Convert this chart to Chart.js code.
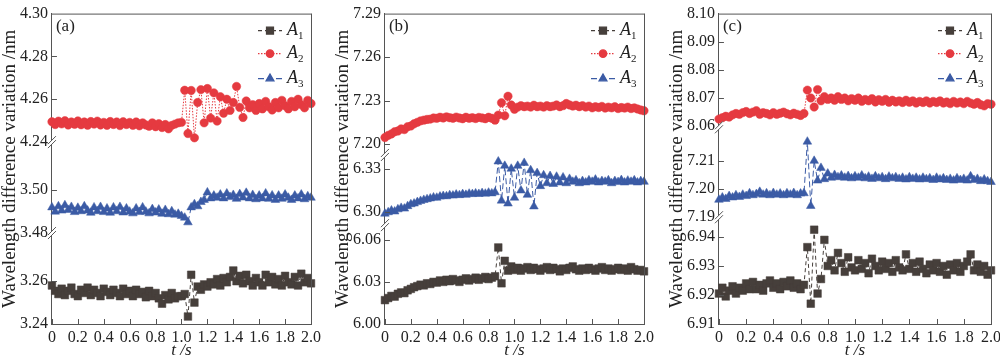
<!DOCTYPE html>
<html>
<head>
<meta charset="utf-8">
<script src="https://cdn.jsdelivr.net/npm/chart.js@4.4.0/dist/chart.umd.min.js"></script>
<style>
  body { margin: 0; background: #fff; }
  #wrap { position: relative; width: 1000px; height: 359px; overflow: hidden; }
  canvas { position: absolute; top: 0; }
</style>
</head>
<body>
<div id="wrap">
  <canvas id="chartA" width="330" height="359" style="left:0"></canvas>
  <canvas id="chartB" width="330" height="359" style="left:333px"></canvas>
  <canvas id="chartC" width="338" height="359" style="left:667px"></canvas>
</div>
<script>
// time axis (s)
const times = [
  0,0.025,0.05,0.075,0.1,0.125,0.15,0.175,0.2,0.225,
  0.25,0.275,0.3,0.325,0.35,0.375,0.4,0.425,0.45,0.475,
  0.5,0.525,0.55,0.575,0.6,0.625,0.65,0.675,0.7,0.725,
  0.75,0.775,0.8,0.825,0.85,0.875,0.9,0.925,0.95,0.975,
  1.0,1.025,1.05,1.075,1.1,1.125,1.15,1.175,1.2,1.225,
  1.25,1.275,1.3,1.325,1.35,1.375,1.4,1.425,1.45,1.475,
  1.5,1.525,1.55,1.575,1.6,1.625,1.65,1.675,1.7,1.725,
  1.75,1.775,1.8,1.825,1.85,1.875,1.9,1.925,1.95,1.975,
  2.0
];
const xTicks = [0, 0.2, 0.4, 0.6, 0.8, 1.0, 1.2, 1.4, 1.6, 1.8, 2.0];

// panel (a)
const a_A1 = [
  3.2580,3.2555,3.2540,3.2565,3.2535,3.2555,3.2570,3.2540,3.2530,3.2560,
  3.2545,3.2570,3.2535,3.2560,3.2545,3.2530,3.2565,3.2550,3.2535,3.2560,
  3.2545,3.2530,3.2565,3.2540,3.2555,3.2530,3.2560,3.2540,3.2550,3.2525,
  3.2555,3.2530,3.2545,3.2520,3.2495,3.2535,3.2515,3.2545,3.2520,3.2530,
  3.2530,3.2540,3.2435,3.2630,3.2500,3.2575,3.2560,3.2585,3.2575,3.2595,
  3.2585,3.2610,3.2580,3.2615,3.2595,3.2620,3.2650,3.2600,3.2625,3.2590,
  3.2630,3.2600,3.2580,3.2615,3.2595,3.2580,3.2630,3.2595,3.2620,3.2585,
  3.2610,3.2580,3.2625,3.2595,3.2585,3.2620,3.2580,3.2635,3.2595,3.2615,
  3.2590
];
const a_A2 = [
  4.2495,4.2482,4.2498,4.2485,4.2500,4.2480,4.2494,4.2483,4.2499,4.2481,
  4.2494,4.2479,4.2496,4.2484,4.2498,4.2480,4.2492,4.2478,4.2496,4.2482,
  4.2494,4.2477,4.2495,4.2482,4.2492,4.2478,4.2494,4.2476,4.2490,4.2480,
  4.2474,4.2490,4.2472,4.2486,4.2468,4.2482,4.2462,4.2478,4.2484,4.2490,
  4.2492,4.2642,4.2440,4.2641,4.2420,4.2585,4.2645,4.2490,4.2650,4.2512,
  4.2630,4.2498,4.2612,4.2535,4.2600,4.2548,4.2585,4.2660,4.2562,4.2515,
  4.2592,4.2560,4.2575,4.2548,4.2580,4.2555,4.2590,4.2565,4.2550,4.2585,
  4.2560,4.2595,4.2570,4.2555,4.2590,4.2565,4.2600,4.2575,4.2560,4.2595,
  4.2580
];
const a_A3 = [
  3.4920,3.4900,3.4925,3.4905,3.4930,3.4908,3.4922,3.4898,3.4918,3.4902,
  3.4925,3.4905,3.4895,3.4920,3.4902,3.4922,3.4898,3.4915,3.4895,3.4920,
  3.4902,3.4922,3.4896,3.4915,3.4900,3.4892,3.4915,3.4898,3.4920,3.4900,
  3.4892,3.4912,3.4896,3.4910,3.4890,3.4908,3.4888,3.4902,3.4886,3.4890,
  3.4880,3.4872,3.4850,3.4920,3.4935,3.4925,3.4945,3.4955,3.4990,3.4962,
  3.4975,3.4965,3.4980,3.4962,3.4985,3.4968,3.4978,3.4960,3.4982,3.4966,
  3.4988,3.4962,3.4978,3.4958,3.4975,3.4962,3.4985,3.4960,3.4976,3.4955,
  3.4975,3.4960,3.4980,3.4965,3.4955,3.4975,3.4962,3.4980,3.4958,3.4972,
  3.4965
];

// panel (b)
const b_A1 = [
  6.0170,6.0185,6.0200,6.0195,6.0215,6.0225,6.0220,6.0240,6.0250,6.0262,
  6.0270,6.0280,6.0275,6.0290,6.0285,6.0300,6.0295,6.0310,6.0300,6.0315,
  6.0305,6.0320,6.0310,6.0300,6.0315,6.0325,6.0310,6.0320,6.0330,6.0315,
  6.0325,6.0335,6.0320,6.0330,6.0340,6.0545,6.0290,6.0450,6.0380,6.0410,
  6.0385,6.0400,6.0380,6.0395,6.0405,6.0385,6.0400,6.0390,6.0380,6.0395,
  6.0405,6.0385,6.0400,6.0390,6.0375,6.0395,6.0385,6.0400,6.0410,6.0390,
  6.0380,6.0395,6.0385,6.0400,6.0390,6.0380,6.0395,6.0405,6.0385,6.0395,
  6.0380,6.0390,6.0400,6.0385,6.0395,6.0380,6.0405,6.0390,6.0380,6.0385,
  6.0375
];
const b_A2 = [
  7.2045,7.2060,7.2070,7.2085,7.2090,7.2105,7.2100,7.2120,7.2125,7.2140,
  7.2150,7.2160,7.2165,7.2170,7.2172,7.2180,7.2178,7.2185,7.2180,7.2188,
  7.2182,7.2178,7.2186,7.2180,7.2175,7.2185,7.2178,7.2182,7.2176,7.2184,
  7.2180,7.2175,7.2185,7.2178,7.2165,7.2200,7.2285,7.2195,7.2330,7.2270,
  7.2240,7.2255,7.2265,7.2258,7.2262,7.2255,7.2268,7.2258,7.2262,7.2255,
  7.2265,7.2258,7.2262,7.2270,7.2258,7.2265,7.2280,7.2270,7.2262,7.2268,
  7.2258,7.2265,7.2255,7.2262,7.2250,7.2258,7.2252,7.2260,7.2248,7.2255,
  7.2250,7.2258,7.2245,7.2252,7.2248,7.2255,7.2245,7.2250,7.2242,7.2235,
  7.2230
];
const b_A3 = [
  6.2990,6.3000,6.3012,6.3005,6.3020,6.3030,6.3025,6.3042,6.3055,6.3060,
  6.3070,6.3078,6.3085,6.3090,6.3095,6.3102,6.3100,6.3108,6.3112,6.3110,
  6.3118,6.3115,6.3122,6.3118,6.3125,6.3120,6.3128,6.3125,6.3130,6.3126,
  6.3132,6.3128,6.3135,6.3130,6.3138,6.3350,6.3080,6.3320,6.3060,6.3300,
  6.3100,6.3320,6.3150,6.3340,6.3120,6.3290,6.3040,6.3270,6.3180,6.3255,
  6.3200,6.3250,6.3195,6.3245,6.3205,6.3240,6.3200,6.3230,6.3210,6.3220,
  6.3200,6.3215,6.3205,6.3220,6.3210,6.3225,6.3205,6.3215,6.3210,6.3220,
  6.3200,6.3215,6.3208,6.3222,6.3205,6.3218,6.3210,6.3220,6.3205,6.3215,
  6.3210
];

// panel (c)
const c_A1 = [
  6.9205,6.9225,6.9195,6.9215,6.9230,6.9205,6.9225,6.9215,6.9240,6.9220,
  6.9245,6.9220,6.9235,6.9215,6.9240,6.9250,6.9225,6.9240,6.9220,6.9245,
  6.9230,6.9250,6.9225,6.9240,6.9220,6.9235,6.9365,6.9170,6.9425,6.9205,
  6.9255,6.9390,6.9300,6.9320,6.9285,6.9345,6.9310,6.9280,6.9330,6.9295,
  6.9285,6.9320,6.9290,6.9310,6.9275,6.9325,6.9300,6.9285,6.9315,6.9290,
  6.9310,6.9280,6.9320,6.9295,6.9285,6.9340,6.9290,6.9310,6.9280,6.9315,
  6.9290,6.9275,6.9305,6.9285,6.9310,6.9280,6.9300,6.9270,6.9305,6.9285,
  6.9310,6.9280,6.9300,6.9315,6.9340,6.9285,6.9305,6.9280,6.9300,6.9270,
  6.9285
];
const c_A2 = [
  8.0625,8.0630,8.0635,8.0632,8.0640,8.0645,8.0642,8.0648,8.0652,8.0645,
  8.0650,8.0655,8.0642,8.0648,8.0645,8.0640,8.0648,8.0642,8.0646,8.0650,
  8.0644,8.0640,8.0646,8.0642,8.0638,8.0645,8.0728,8.0700,8.0668,8.0730,
  8.0690,8.0705,8.0695,8.0700,8.0692,8.0705,8.0695,8.0700,8.0690,8.0698,
  8.0692,8.0700,8.0688,8.0695,8.0690,8.0698,8.0686,8.0694,8.0688,8.0695,
  8.0685,8.0692,8.0686,8.0690,8.0684,8.0692,8.0685,8.0690,8.0682,8.0688,
  8.0684,8.0690,8.0682,8.0688,8.0684,8.0690,8.0682,8.0686,8.0680,8.0688,
  8.0682,8.0686,8.0680,8.0688,8.0682,8.0678,8.0684,8.0676,8.0672,8.0680,
  8.0678
];
const c_A3 = [
  7.1962,7.1970,7.1965,7.1975,7.1970,7.1978,7.1972,7.1980,7.1975,7.1985,
  7.1978,7.1982,7.1990,7.1980,7.1985,7.1978,7.1986,7.1980,7.1984,7.1978,
  7.1985,7.1980,7.1986,7.1978,7.1984,7.1985,7.2168,7.1940,7.2100,7.2030,
  7.2075,7.2035,7.2055,7.2040,7.2050,7.2042,7.2048,7.2040,7.2046,7.2038,
  7.2045,7.2040,7.2048,7.2038,7.2044,7.2036,7.2045,7.2038,7.2042,7.2035,
  7.2044,7.2038,7.2042,7.2036,7.2040,7.2034,7.2042,7.2036,7.2040,7.2034,
  7.2040,7.2035,7.2038,7.2032,7.2040,7.2034,7.2038,7.2032,7.2036,7.2030,
  7.2038,7.2032,7.2036,7.2030,7.2045,7.2032,7.2036,7.2028,7.2034,7.2028,
  7.2025
];

// y tick labels for each broken-axis segment
const a_botTicks = [3.24, 3.26], a_midTicks = [3.48, 3.50], a_topTicks = [4.24, 4.26, 4.28, 4.30];
const b_botTicks = [6.00, 6.03, 6.06], b_midTicks = [6.30, 6.33], b_topTicks = [7.20, 7.23, 7.26, 7.29];
const c_botTicks = [6.91, 6.92, 6.93, 6.94], c_midTicks = [7.19, 7.20, 7.21], c_topTicks = [8.06, 8.07, 8.08, 8.09, 8.10];

const seriesNames = ['A1', 'A2', 'A3'];

const FONT = '"Liberation Serif", "Times New Roman", serif';
const axisColor = '#555';
const textColor = '#222';
const colors = ['#463f3b', '#e53a40', '#3b5ba5'];
const dashes = [[4, 3], [1.5, 1.5], [6, 3]];
const styles = ['rect', 'circle', 'triangle'];
const radii = [5.4, 4.2, 5];

// frame, inward ticks, axis breaks, panel tag, legend
const decor = {
  id: 'decor',
  afterDraw(chart, args, opts) {
    const ctx = chart.ctx, ca = chart.chartArea;
    const line = (x1, y1, x2, y2) => { ctx.beginPath(); ctx.moveTo(x1, y1); ctx.lineTo(x2, y2); ctx.stroke(); };
    ctx.save();
    ctx.strokeStyle = axisColor;
    ctx.lineWidth = 1;
    line(ca.left, ca.top + 0.5, ca.right + 0.5, ca.top + 0.5);
    line(ca.right + 0.5, ca.top, ca.right + 0.5, ca.bottom);

    ['yBot', 'yMid', 'yTop'].forEach(id => {
      const s = chart.scales[id];
      s.ticks.forEach(t => {
        const y = s.getPixelForValue(t.value);
        if (y - s.top < 4 || s.bottom - y < 4) return;
        line(ca.left, Math.round(y) + 0.5, ca.left + 5, Math.round(y) + 0.5);
      });
    });
    const xs = chart.scales.x;
    xs.ticks.forEach(t => {
      const x = Math.round(xs.getPixelForValue(t.value)) + 0.5;
      line(x, ca.bottom, x, ca.bottom - 5);
    });

    // axis breaks
    ['yBot', 'yMid'].forEach(id => {
      const b = chart.scales[id].top;
      const x = ca.left;
      ctx.fillStyle = '#fff';
      ctx.beginPath();
      ctx.moveTo(x - 4, b + 2); ctx.lineTo(x + 4, b - 6);
      ctx.lineTo(x + 4, b - 2); ctx.lineTo(x - 4, b + 6);
      ctx.closePath(); ctx.fill();
      line(x - 4, b + 2, x + 4, b - 6);
      line(x - 4, b + 6, x + 4, b - 2);
    });

    // panel tag
    ctx.fillStyle = textColor;
    ctx.font = '17px ' + FONT;
    ctx.textBaseline = 'middle';
    ctx.textAlign = 'left';
    ctx.fillText(opts.tag, ca.left + 4, ca.top + 13);

    // legend
    const rows = [17, 40, 65];
    chart.data.datasets.forEach((ds, i) => {
      const y = ca.top + rows[i];
      const x0 = ca.right - 53, x1 = ca.right - 29;
      ctx.strokeStyle = ds.borderColor;
      ctx.lineWidth = 1.3;
      ctx.setLineDash(ds.borderDash);
      line(x0, y, x1, y);
      ctx.setLineDash([]);
      ctx.fillStyle = ds.backgroundColor;
      ctx.strokeStyle = ds.borderColor;
      Chart.helpers.drawPoint(ctx, { pointStyle: ds.pointStyle, radius: ds.pointRadius - 0.5, rotation: 0, borderWidth: 1 }, (x0 + x1) / 2, y);
      ctx.fillStyle = textColor;
      ctx.font = 'italic 18px ' + FONT;
      ctx.fillText(ds.label[0], ca.right - 24, y);
      const w = ctx.measureText(ds.label[0]).width;
      ctx.font = '11px ' + FONT;
      ctx.fillText(ds.label.slice(1), ca.right - 24 + w, y + 6);
    });
    ctx.restore();
  }
};

function yAxis(seg, order) {
  return {
    type: 'linear',
    position: 'left',
    stack: 'left',
    stackWeight: seg.weight,
    weight: order,
    min: seg.min,
    max: seg.max,
    grid: { display: false, drawTicks: false },
    border: { color: axisColor, width: 1 },
    ticks: { color: textColor, font: { family: FONT, size: 16 }, padding: 4, autoSkip: false,
             callback: v => v.toFixed(2) },
    afterBuildTicks: s => { s.ticks = seg.ticks.map(v => ({ value: v })); },
    afterFit: s => { s.width = 32; }
  };
}

function makePanel(canvasId, tag, series, segs, padRight) {
  const ids = ['yBot', 'yTop', 'yMid'];
  const datasets = series.map((vals, i) => ({
    label: seriesNames[i],
    data: times.map((t, k) => ({ x: t, y: vals[k] })),
    yAxisID: ids[i],
    borderColor: colors[i],
    backgroundColor: colors[i],
    borderWidth: 1,
    borderDash: dashes[i],
    pointStyle: styles[i],
    pointRadius: radii[i],
    pointBorderWidth: 0.5,
    clip: false
  }));
  return new Chart(document.getElementById(canvasId), {
    type: 'line',
    data: { datasets },
    plugins: [decor],
    options: {
      responsive: false,
      animation: false,
      events: [],
      layout: { padding: { left: 0, right: padRight, top: 10, bottom: 0 } },
      plugins: {
        legend: { display: false },
        tooltip: { enabled: false },
        title: {
          display: true,
          position: 'left',
          fullSize: false,
          text: 'Wavelength difference variation /nm',
          color: textColor,
          font: { family: FONT, size: 19, weight: 'normal', lineHeight: 1.05 },
          padding: 0
        },
        decor: { tag }
      },
      scales: {
        x: {
          type: 'linear',
          min: 0,
          max: 2,
          grid: { display: false, drawTicks: false },
          border: { color: axisColor, width: 1 },
          ticks: { color: textColor, font: { family: FONT, size: 16 }, padding: 4, autoSkip: false,
                   maxRotation: 0, callback: v => v === 0 ? '0' : v.toFixed(1) },
          afterBuildTicks: s => { s.ticks = xTicks.map(v => ({ value: v })); },
          title: { display: true, text: 't /s', color: textColor,
                   font: { family: FONT, size: 17, style: 'italic', lineHeight: 1 }, padding: { top: 0, bottom: 0 } },
          afterFit: s => { s.height = 35; }
        },
        yBot: yAxis(segs[0], 1),
        yMid: yAxis(segs[1], 2),
        yTop: yAxis(segs[2], 3)
      }
    }
  });
}

makePanel('chartA', '(a)', [a_A1, a_A2, a_A3], [
  { min: 3.24, max: 3.2825, ticks: a_botTicks, weight: 92 },
  { min: 3.48, max: 3.5225, ticks: a_midTicks, weight: 92 },
  { min: 4.24, max: 4.30, ticks: a_topTicks, weight: 130 }
], 19);

makePanel('chartB', '(b)', [b_A1, b_A2, b_A3], [
  { min: 6.00, max: 6.0704, ticks: b_botTicks, weight: 100 },
  { min: 6.2911, max: 6.3395, ticks: b_midTicks, weight: 71 },
  { min: 7.1925, max: 7.29, ticks: b_topTicks, weight: 143 }
], 19);

makePanel('chartC', '(c)', [c_A1, c_A2, c_A3], [
  { min: 6.91, max: 6.9468, ticks: c_botTicks, weight: 108 },
  { min: 7.19, max: 7.2219, ticks: c_midTicks, weight: 91 },
  { min: 8.0596, max: 8.10, ticks: c_topTicks, weight: 115 }
], 13);
</script>
</body>
</html>
